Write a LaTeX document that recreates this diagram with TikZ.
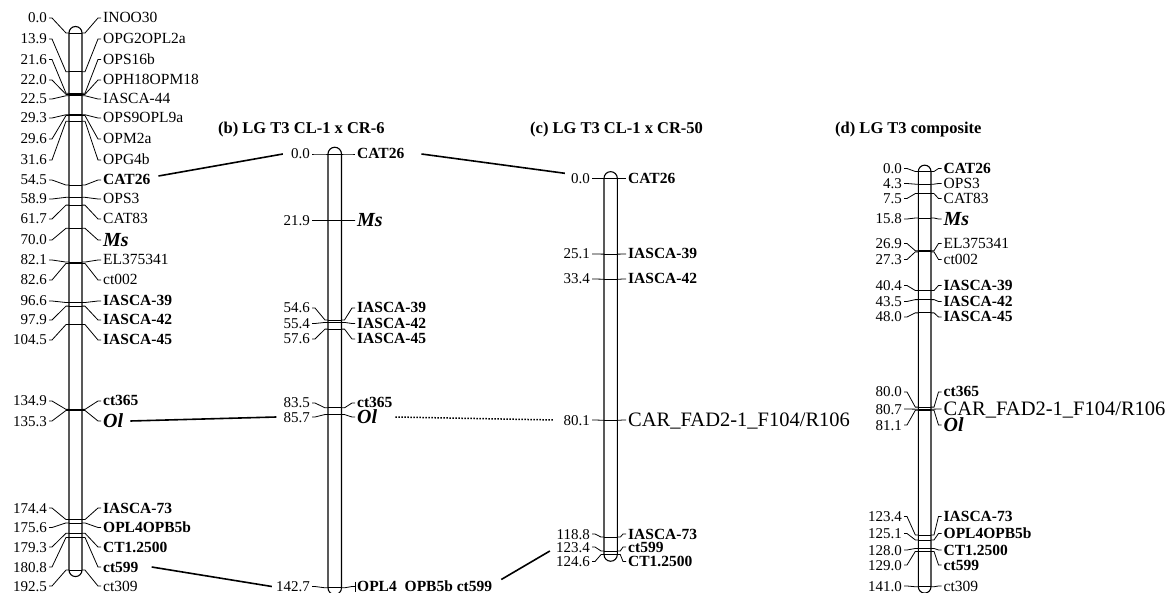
\documentclass[tikz,border=0pt]{standalone}
\usepackage{fontspec}
\setmainfont{Liberation Serif}
\newcommand\carname{CAR\_FAD2-1\_F104/R106}
\tikzset{
 chrom/.style={line width=1.1pt},
 tick/.style={line width=0.8pt},
 link/.style={line width=1.6pt},
 num/.style={inner sep=0pt, anchor=east, font=\fontsize{15pt}{15pt}\selectfont, text height=10pt, text depth=0pt},
 mk/.style={inner sep=0pt, anchor=west, font=\fontsize{15.5pt}{15.5pt}\selectfont, text height=10pt, text depth=0pt},
 mkb/.style={mk, font=\fontsize{15.5pt}{15.5pt}\selectfont\bfseries},
 mki/.style={mk, font=\fontsize{20pt}{20pt}\selectfont\bfseries\itshape, text height=13pt},
 mkc/.style={mk, font=\fontsize{20.5pt}{20.5pt}\selectfont, text height=14pt},
 title/.style={inner sep=0pt, anchor=base west, font=\fontsize{16.5pt}{16.5pt}\selectfont\bfseries},
}
% #1 prefix, #2 bar left, #3 bar right, #4 origin y, #5 scale, #6 number x, #7 label x, #8 length, #9 list
\newcommand\drawchr[9]{%
 \pgfmathsetmacro\chrR{(#3-#2)/2}%
 \pgfmathsetmacro\chrE{#4+#8*#5}%
 \draw[chrom] (#2,#4) -- (#2,\chrE) arc[start angle=180,end angle=360,radius=\chrR pt] -- (#3,#4) arc[start angle=0,end angle=180,radius=\chrR pt] -- cycle;
 \foreach \pp/\lyy/\nm/\lab/\sty [count=\i] in {#9}{%
   \pgfmathsetmacro\py{#4+\pp*#5}%
   \draw[tick] (#2,\py) -- (#3,\py);
   \node[num] (#1-n\i) at (#6,\lyy) {\nm};
   \node[style=\sty] (#1-l\i) at (#7,\lyy) {\lab};
   \draw[tick] (#1-n\i.east) ++(2,0) -- ++(3,0) -- (#2-3,\py) -- (#2,\py);
   \draw[tick] (#3,\py) -- (#3+3,\py) -- (#7-5,\lyy) -- (#7-2,\lyy);
 }%
}
\begin{document}
\begin{tikzpicture}[x=1pt,y=-1pt]
\useasboundingbox (0,0) rectangle (1170,593);

\drawchr{a}{69}{82}{33}{2.79}{47}{103}{192.5}{
 0.0/18/0.0/INOO30/mk,
 13.9/39/13.9/OPG2OPL2a/mk,
 21.6/59.5/21.6/OPS16b/mk,
 22.0/80/22.0/OPH18OPM18/mk,
 22.5/99/22.5/IASCA-44/mk,
 29.3/118/29.3/OPS9OPL9a/mk,
 29.6/139/29.6/OPM2a/mk,
 31.6/160/31.6/OPG4b/mk,
 54.5/180/54.5/CAT26/mkb,
 58.9/199/58.9/OPS3/mk,
 61.7/219/61.7/CAT83/mk,
 70.0/240/70.0/Ms/mki,
 82.1/260/82.1/EL375341/mk,
 82.6/280/82.6/ct002/mk,
 96.6/301/96.6/IASCA-39/mkb,
 97.9/320/97.9/IASCA-42/mkb,
 104.5/340/104.5/IASCA-45/mkb,
 134.9/401/134.9/ct365/mkb,
 135.3/421/135.3/Ol/mki,
 174.4/508/174.4/IASCA-73/mkb,
 175.6/527.5/175.6/OPL4OPB5b/mkb,
 179.3/547/179.3/CT1.2500/mkb,
 180.8/567/180.8/ct599/mkb,
 192.5/586/192.5/ct309/mk}

\drawchr{b}{328}{341.5}{154}{3.04}{310}{357}{142.7}{
 0.0/154/0.0/CAT26/mkb,
 21.9/220.5/21.9/Ms/mki,
 54.6/308/54.6/IASCA-39/mkb,
 55.4/323.5/55.4/IASCA-42/mkb,
 57.6/339/57.6/IASCA-45/mkb,
 83.5/403/83.5/ct365/mkb,
 85.7/417/85.7/Ol/mki,
 142.7/586.5/142.7/{OPL4\hspace{4pt} OPB5b ct599}/mkb}
\draw[tick] ([xshift=-2pt]b-l8.west) +(0,-5) -- +(0,5);

\drawchr{c}{604}{617.3}{178.3}{3.02}{590}{628}{124.6}{
 0.0/178.3/0.0/CAT26/mkb,
 25.1/254/25.1/IASCA-39/mkb,
 33.4/279/33.4/IASCA-42/mkb,
 80.1/420/80.1/\carname/mkc,
 118.8/534/118.8/IASCA-73/mkb,
 123.4/547/123.4/ct599/mkb,
 124.6/561.5/124.6/CT1.2500/mkb}

\drawchr{d}{918.3}{931}{171.5}{2.945}{902}{943.5}{141}{
 0.0/168.5/0.0/CAT26/mkb,
 4.3/183.5/4.3/OPS3/mk,
 7.5/198.5/7.5/CAT83/mk,
 15.8/219/15.8/Ms/mki,
 26.9/243.5/26.9/EL375341/mk,
 27.3/259.5/27.3/ct002/mk,
 40.4/285.5/40.4/IASCA-39/mkb,
 43.5/301.5/43.5/IASCA-42/mkb,
 48.0/317/48.0/IASCA-45/mkb,
 80.0/392/80.0/ct365/mkb,
 80.7/409/80.7/\carname/mkc,
 81.1/425/81.1/Ol/mki,
 123.4/516.5/123.4/IASCA-73/mkb,
 125.1/533.5/125.1/OPL4OPB5b/mkb,
 128.0/550/128.0/CT1.2500/mkb,
 129.0/565/129.0/ct599/mkb,
 141.0/586/141.0/ct309/mk}

\node[title] (tb) at (218,134) {(b) LG T3 CL-1 x CR-6};
\node[title] (tc) at (530,134) {(c) LG T3 CL-1 x CR-50};
\node[title] (td) at (835,134) {(d) LG T3 composite};

\draw[link] ([shift={(8,-4)}]a-l9.east) -- ([xshift=-8pt]b-n1.west);
\draw[link] ([xshift=17pt]b-l1.east) -- ([shift={(-6,-5)}]c-n1.west);
\draw[link] ([xshift=7pt]a-l19.east) -- ([xshift=-7pt]b-n7.west);
\draw[link, line width=1.5pt, dash pattern=on 1.5pt off 1.5pt] ([xshift=18pt]b-l7.east) -- ([xshift=-9pt]c-n4.west);
\draw[link] ([xshift=13pt]a-l23.east) -- ([xshift=-4pt]b-n8.west);
\draw[link] ([shift={(9,-7)}]b-l8.east) -- ([shift={(-6,4)}]c-n6.west);
\end{tikzpicture}
\end{document}
